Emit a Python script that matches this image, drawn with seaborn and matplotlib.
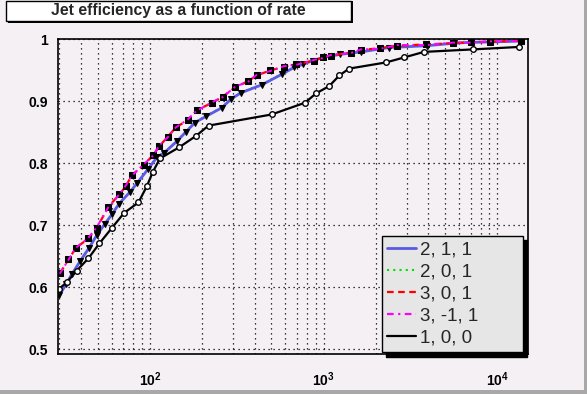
import numpy as np
import pandas as pd
import seaborn as sns
import matplotlib.pyplot as plt
from matplotlib.lines import Line2D
from matplotlib.patches import Rectangle
from matplotlib.ticker import LogLocator, NullFormatter, MultipleLocator, FuncFormatter

sns.set_style("white")
plt.rcParams['font.family'] = ['Liberation Sans', 'DejaVu Sans']
plt.rcParams['mathtext.fontset'] = 'custom'
plt.rcParams['mathtext.rm'] = 'Liberation Sans:bold'
plt.rcParams['mathtext.default'] = 'rm'

# ---- data ----
rate_211 = [30, 32.8, 35.6, 39.5, 44.6, 49.5, 55.1, 60.4, 66.3, 76.7, 84.1, 97.4, 109.7,
            120.4, 143, 161, 181.5, 210, 259.7, 292.5, 334, 441, 575, 674, 760, 867, 991,
            1241, 1640, 2376, 3935, 5620, 7047, 9065, 13670]
eff_211 = [0.587, 0.605, 0.622, 0.642, 0.664, 0.685, 0.703, 0.718, 0.735, 0.754, 0.768,
           0.791, 0.810, 0.817, 0.836, 0.851, 0.866, 0.876, 0.890, 0.904, 0.914, 0.927,
           0.944, 0.955, 0.960, 0.966, 0.971, 0.976, 0.980, 0.987, 0.990, 0.994, 0.9955,
           0.996, 0.9975]

rate_201 = [30, 32.9, 35.7, 39.6, 44.8, 49.6, 55.3, 60.6, 66.5, 76.9, 84.3, 97.6, 110,
            120.7, 143.4, 161.4, 182, 210.5, 260, 293, 334.5, 442, 576, 675, 761, 868, 992,
            1242, 1642, 2378, 3937, 5622, 7050, 9068, 13675]
eff_201 = [0.588, 0.606, 0.623, 0.643, 0.665, 0.686, 0.704, 0.719, 0.736, 0.755, 0.769,
           0.792, 0.811, 0.818, 0.837, 0.852, 0.867, 0.877, 0.891, 0.905, 0.915, 0.928,
           0.945, 0.955, 0.961, 0.966, 0.971, 0.976, 0.981, 0.987, 0.990, 0.994, 0.9955,
           0.996, 0.9975]

rate_301 = [30.3, 33.9, 37.5, 44.2, 49.4, 57.5, 66.6, 72.8, 78.5, 92.4, 104.5, 113.1, 126.4,
            140.6, 164.9, 185.7, 228.3, 262.2, 309.7, 368, 411, 491, 590, 692, 879, 986,
            1097, 1430, 1633, 2109, 2653, 3881, 5530, 7020, 9060, 13620]
eff_301 = [0.623, 0.645, 0.664, 0.679, 0.696, 0.730, 0.750, 0.764, 0.781, 0.798, 0.814,
           0.828, 0.843, 0.858, 0.870, 0.886, 0.898, 0.908, 0.923, 0.933, 0.942, 0.950,
           0.956, 0.960, 0.966, 0.971, 0.974, 0.979, 0.983, 0.986, 0.990, 0.992, 0.994,
           0.9955, 0.9965, 0.998]

rate_3m1 = [30.2, 33.8, 37.4, 44.1, 49.3, 57.4, 66.5, 72.7, 78.4, 92.2, 104.3, 113, 126.2,
            140.4, 164.7, 185.5, 228, 262, 309.5, 367.8, 410.8, 490.8, 589.8, 691.8, 878.8,
            985.8, 1096.8, 1429.8, 1632.8, 2108.8, 2652.8, 3880.8, 5529.8, 7019.8, 9059.8, 13619]
eff_3m1 = [0.622, 0.644, 0.664, 0.680, 0.697, 0.729, 0.750, 0.765, 0.780, 0.799, 0.813,
           0.829, 0.842, 0.858, 0.871, 0.885, 0.899, 0.907, 0.924, 0.932, 0.943, 0.949,
           0.957, 0.959, 0.967, 0.970, 0.975, 0.978, 0.984, 0.985, 0.991, 0.991, 0.995,
           0.995, 0.997, 0.998]

rate_100 = [30, 33.1, 37.8, 44.2, 51.1, 60.3, 70.8, 85.7, 95.7, 103.6, 114, 147, 183, 217,
            501, 780, 903, 1077, 1230, 1399, 2285, 2900, 3777, 7210, 13360]
eff_100 = [0.598, 0.608, 0.627, 0.647, 0.671, 0.696, 0.720, 0.737, 0.763, 0.786, 0.808,
           0.826, 0.844, 0.861, 0.879, 0.898, 0.913, 0.925, 0.942, 0.953, 0.963, 0.971,
           0.980, 0.984, 0.988]

labels = ["2, 1, 1", "2, 0, 1", "3, 0, 1", "3, -1, 1", "1, 0, 0"]

bg = "#f4f0f4"
W, H = 587, 394
fig = plt.figure(figsize=(W / 100, H / 100), dpi=100, facecolor=bg)
ax = fig.add_axes([58 / W, 1 - 354 / H, 470 / W, 315 / H])
ax.set_facecolor(bg)

blue = "#5a5ae6"
common = dict(ax=ax, sort=False, estimator=None)
sns.lineplot(x=rate_201, y=eff_201, color="#00dd00", linestyle=(0, (1, 2)), lw=1.3, **common)
sns.lineplot(x=rate_211, y=eff_211, color=blue, lw=2, marker="v", markersize=4.5,
             markerfacecolor="black", markeredgecolor="black", **common)
sns.lineplot(x=rate_301, y=eff_301, color="red", linestyle=(0, (3, 2)), lw=1.6, marker="s",
             markersize=4.3, markerfacecolor="black", markeredgecolor="black", **common)
sns.lineplot(x=rate_3m1, y=eff_3m1, color="magenta", linestyle=(0, (3, 2, 1, 2)), lw=1.4, **common)
sns.lineplot(x=rate_100, y=eff_100, color="black", lw=1.6, marker="o", markersize=4,
             markerfacecolor="white", markeredgecolor="black", markeredgewidth=1, **common)

ax.set_xscale("log")
ax.set_xlim(29.5, 15000)
ax.set_ylim(0.4925, 1.0008)

ax.xaxis.set_major_locator(LogLocator(base=10))
ax.xaxis.set_minor_locator(LogLocator(base=10, subs=np.arange(2, 10)))
ax.xaxis.set_minor_formatter(NullFormatter())
ax.xaxis.set_major_formatter(FuncFormatter(lambda v, p: r"$10^{%d}$" % round(np.log10(v))))
ax.yaxis.set_major_locator(MultipleLocator(0.1))
ax.yaxis.set_minor_locator(MultipleLocator(0.02))
ax.yaxis.set_major_formatter(FuncFormatter(lambda v, p: "%g" % round(v, 2)))

ax.tick_params(axis="both", which="both", direction="in", colors="black")
ax.tick_params(axis="y", which="major", length=7, width=1, pad=7, labelsize=10)
ax.tick_params(axis="y", which="minor", length=4, width=1)
ax.tick_params(axis="x", which="major", length=8, width=1, pad=12, labelsize=10)
ax.tick_params(axis="x", which="minor", length=5, width=1)
for lab in ax.get_yticklabels():
    lab.set_fontweight("bold")

ax.grid(True, which="major", axis="y", color="black", linestyle=(0, (1, 3)), lw=0.9)
ax.grid(True, which="both", axis="x", color="black", linestyle=(0, (1, 3)), lw=0.9)
for s in ax.spines.values():
    s.set_color("black")
    s.set_linewidth(1.2)

handles = [Line2D([], [], color=blue, lw=2),
           Line2D([], [], color="#00dd00", lw=1.5, linestyle=(0, (1, 2))),
           Line2D([], [], color="red", lw=1.6, linestyle=(0, (3, 2))),
           Line2D([], [], color="magenta", lw=1.6, linestyle=(0, (3, 2, 1, 2))),
           Line2D([], [], color="black", lw=1.6)]
leg = ax.legend(handles, labels, loc="upper left",
                bbox_to_anchor=(381.5 / W, 1 - 236.5 / H, 141 / W, 0.001),
                bbox_transform=fig.transFigure, mode="expand", fontsize=13.5,
                frameon=True, fancybox=False, edgecolor="black", facecolor="#e6e6e6",
                framealpha=1, borderpad=0.3, labelspacing=0.26, handlelength=1.55,
                handletextpad=0.2, borderaxespad=0,
                shadow={"ox": 3, "oy": -3, "color": "black", "alpha": 1})
leg.get_frame().set_linewidth(1)

# title box with shadow, ROOT style
fig.patches.append(Rectangle((8 / W, 1 - 23 / H), 345 / W, 22 / H, transform=fig.transFigure,
                             facecolor="black", edgecolor="none", zorder=1))
fig.patches.append(Rectangle((6 / W, 1 - 21 / H), 345 / W, 20.5 / H, transform=fig.transFigure,
                             facecolor="white", edgecolor="black", lw=1, zorder=2))
fig.text(178.5 / W, 1 - 11 / H, "Jet efficiency as a function of rate", ha="center",
         va="center", fontsize=11.3, fontweight="bold", zorder=3)

# canvas bevel
fig.patches.append(Rectangle((0, 0), 1, 4 / H, transform=fig.transFigure,
                             facecolor="#a8a8a8", edgecolor="none"))
fig.patches.append(Rectangle((1 - 3 / W, 0), 3 / W, 1, transform=fig.transFigure,
                             facecolor="#a8a8a8", edgecolor="none"))

fig.savefig("out.png", dpi=100, facecolor=bg)
